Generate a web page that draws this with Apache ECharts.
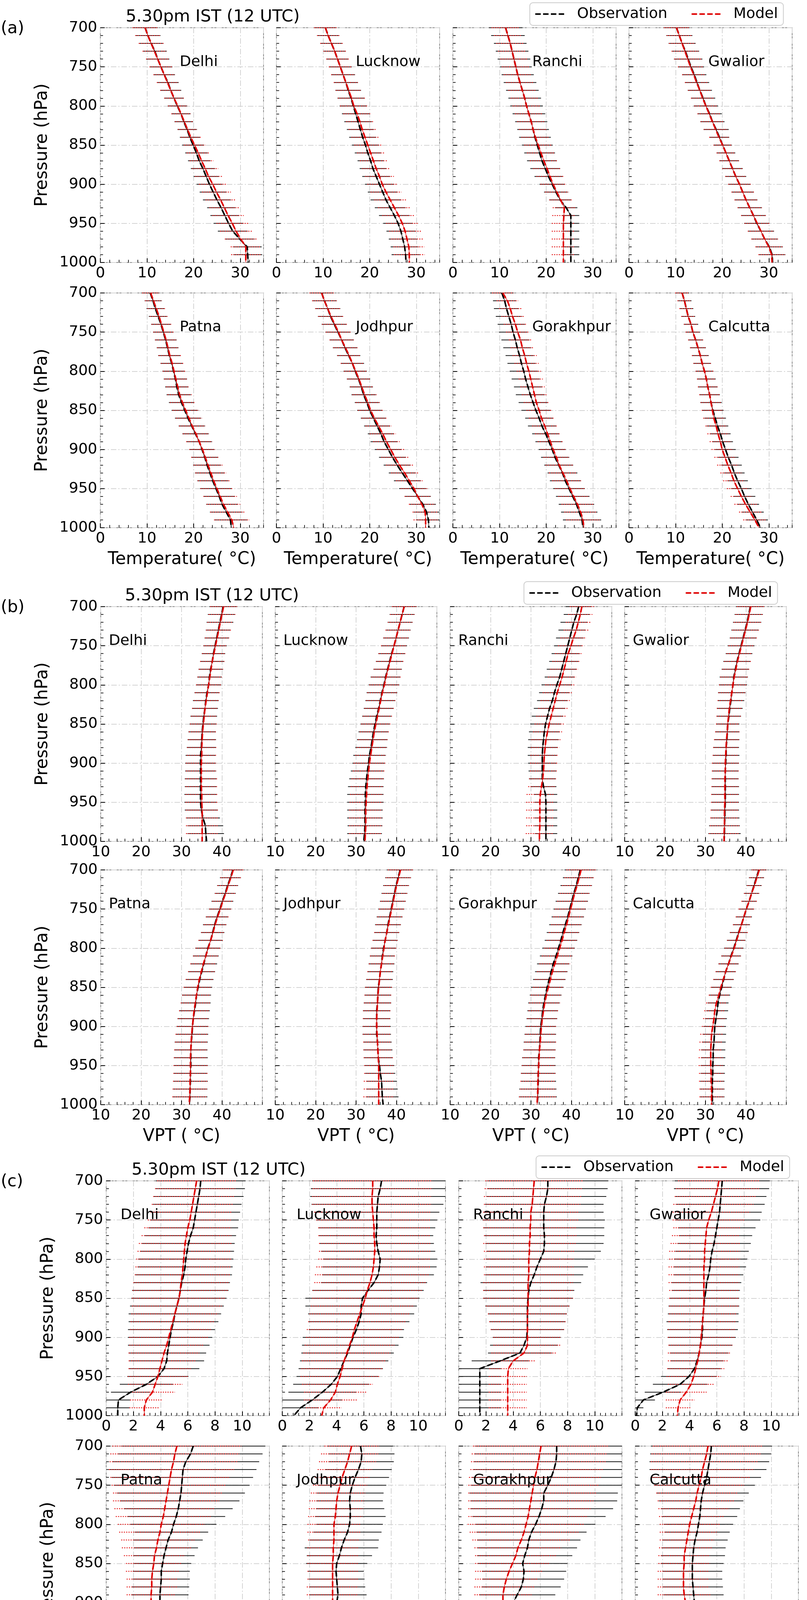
<!DOCTYPE html>
<html>
<head>
<meta charset="utf-8">
<script src="https://cdn.jsdelivr.net/npm/echarts@6.0.0/dist/echarts.min.js"></script>
<style>html,body{margin:0;padding:0;background:#fff}#c{width:2067px;height:4421px}</style>
</head>
<body>
<div id="c"></div>
<script>
// ---------------- data ----------------
const LEVELS = [700,710,720,730,740,750,760,770,780,790,800,810,820,830,840,850,860,870,880,890,900,910,920,930,940,950,960,970,980,990,1000];
const BAR_LEVELS = [700,710,720,730,740,750,760,770,780,790,800,810,820,830,840,850,860,870,880,890,900,910,920,930,940,950,960,970,980,990];
const STATIONS_ROW1 = ['Delhi','Lucknow','Ranchi','Gwalior'];
const STATIONS_ROW2 = ['Patna','Jodhpur','Gorakhpur','Calcutta'];
const PANEL_TAGS = ['(a)','(b)','(c)'];
const PANEL_TITLE = '5.30pm IST (12 UTC)';
const X_NAMES = ['Temperature( °C)','VPT ( °C)','Wind Speed ({it|ms}{sup|−1})'];
const Y_NAME = 'Pressure (hPa)';
const SERIES_NAMES = ['Observation','Model'];

// Temperature (°C)
const tObs_Delhi = [9.6,10.2,10.9,11.7,12.3,13.0,13.7,14.5,15.1,15.8,16.5,17.3,17.9,18.6,19.2,19.9,20.6,21.2,22.0,22.7,23.4,24.2,25.0,25.9,26.7,27.5,28.4,29.9,31.5,31.6,31.7];
const tMod_Delhi = [9.6,10.2,10.9,11.6,12.3,13.0,13.7,14.4,15.1,15.8,16.6,17.3,18.0,18.7,19.4,20.2,21.0,21.7,22.5,23.2,24.1,24.9,25.8,26.6,27.4,28.3,29.1,30.1,31.2,31.2,31.2];
const tObsErr_Delhi = [2.7,2.7,2.65,2.55,2.5,2.45,2.3,2.3,2.25,2.1,2.05,2.05,2.0,2.05,2.15,2.35,2.4,2.4,2.6,2.7,2.75,2.9,3.0,3.0,3.1,3.2,3.2,3.2,3.1,3.1];
const tModErr_Delhi = [2.7,2.7,2.65,2.55,2.5,2.45,2.3,2.3,2.25,2.1,2.05,2.05,2.0,2.05,2.15,2.3,2.5,2.55,2.8,2.9,2.95,3.1,3.2,3.2,3.35,3.4,3.4,3.4,3.25,3.15];
const tObs_Lucknow = [10.5,11.1,11.8,12.5,13.1,13.7,14.3,14.9,15.4,16.0,16.5,17.0,17.5,18.0,18.5,19.1,19.6,20.2,20.7,21.4,22.1,22.8,23.5,24.4,25.3,26.1,26.7,27.1,27.5,27.7,27.8];
const tMod_Lucknow = [10.5,11.1,11.8,12.5,13.1,13.7,14.3,14.9,15.5,16.1,16.6,17.3,17.9,18.4,19.0,19.6,20.2,20.8,21.4,22.1,22.7,23.5,24.4,25.3,26.2,27.0,27.6,28.0,28.4,28.5,28.5];
const tObsErr_Lucknow = [2.4,2.4,2.4,2.4,2.4,2.45,2.55,2.6,2.75,2.9,2.95,2.95,2.95,2.9,2.9,2.9,2.8,2.8,2.85,3.0,3.1,3.2,3.3,3.3,3.3,3.2,3.1,3.0,3.0,3.0];
const tModErr_Lucknow = [2.4,2.4,2.4,2.4,2.4,2.45,2.55,2.6,2.75,2.9,2.95,2.95,2.95,2.9,2.9,2.9,2.9,2.9,3.0,3.1,3.2,3.3,3.4,3.5,3.5,3.5,3.4,3.4,3.3,3.3];
const tObs_Ranchi = [11.3,11.8,12.3,12.7,13.1,13.5,13.9,14.4,14.9,15.4,15.8,16.3,16.8,17.2,17.6,18.1,18.6,19.1,19.8,20.5,21.3,22.1,23.0,24.3,25.3,25.3,25.3,25.3,25.3,25.3,25.3];
const tMod_Ranchi = [11.3,11.8,12.3,12.7,13.1,13.5,13.9,14.4,14.9,15.4,15.8,16.3,16.8,17.2,17.7,18.3,18.9,19.5,20.2,20.8,21.5,22.3,23.1,23.9,23.8,23.7,23.7,23.7,23.7,23.7,23.7];
const tObsErr_Ranchi = [3.6,3.6,3.5,3.5,3.5,3.4,3.45,3.5,3.5,3.5,3.5,3.5,3.45,3.4,3.4,3.3,3.3,3.2,3.2,3.0,2.7,2.55,2.35,2.4,1.8,1.8,1.8,1.8,1.8,1.8];
const tModErr_Ranchi = [3.0,3.0,3.0,3.0,3.0,3.0,3.0,3.0,3.0,3.0,3.0,3.0,3.0,3.0,3.0,3.0,3.0,3.0,3.0,2.9,2.7,2.55,2.4,2.5,2.5,2.5,2.5,2.5,2.5,2.5];
const tObs_Gwalior = [10.2,10.8,11.4,12.1,12.7,13.3,14.0,14.6,15.2,15.9,16.5,17.3,17.9,18.7,19.4,20.1,20.8,21.5,22.2,22.9,23.7,24.4,25.1,25.9,26.7,27.4,28.3,29.1,30.1,30.7,30.8];
const tMod_Gwalior = [10.2,10.8,11.4,12.0,12.6,13.2,13.9,14.5,15.2,15.8,16.5,17.2,17.9,18.6,19.3,20.1,20.8,21.5,22.2,22.9,23.7,24.4,25.1,25.9,26.7,27.5,28.3,29.1,30.0,30.6,30.7];
const tObsErr_Gwalior = [2.8,2.8,2.9,2.95,3.05,2.8,2.6,2.6,2.6,2.6,2.6,2.6,2.6,2.7,2.1,1.95,2.0,2.1,2.2,2.25,2.4,2.4,2.45,2.6,2.65,2.7,2.8,2.85,2.9,2.85];
const tModErr_Gwalior = [2.7,2.7,2.8,2.85,2.9,2.7,2.5,2.5,2.5,2.5,2.5,2.5,2.5,2.55,2.1,1.95,2.0,2.1,2.2,2.25,2.4,2.4,2.45,2.6,2.65,2.7,2.8,2.85,2.9,2.85];
const tObs_Patna = [10.7,11.3,11.8,12.4,13.0,13.5,14.0,14.4,14.8,15.3,15.7,16.1,16.4,16.8,17.4,18.1,18.8,19.6,20.4,21.2,21.8,22.4,22.9,23.5,24.1,24.8,25.5,26.1,27.0,27.9,28.1];
const tMod_Patna = [10.8,11.4,12.0,12.6,13.1,13.6,14.1,14.5,14.9,15.4,15.8,16.2,16.6,17.0,17.6,18.3,19.0,19.7,20.5,21.2,21.9,22.5,23.1,23.7,24.3,25.0,25.7,26.4,27.3,28.2,28.6];
const tObsErr_Patna = [1.8,1.8,1.9,2.0,2.1,2.2,2.3,2.3,2.4,2.4,2.4,2.5,2.5,2.6,2.7,2.8,2.8,2.8,2.8,2.7,2.7,2.9,3.0,3.2,3.3,3.4,3.4,3.4,3.5,3.5];
const tModErr_Patna = [1.8,1.8,1.9,2.0,2.1,2.2,2.3,2.3,2.4,2.4,2.4,2.5,2.5,2.6,2.7,2.8,2.8,2.8,2.8,2.8,2.8,3.0,3.1,3.3,3.4,3.5,3.6,3.6,3.7,3.8];
const tObs_Jodhpur = [9.7,10.3,11.0,11.6,12.4,13.2,14.0,14.7,15.5,16.3,16.9,17.6,18.2,18.7,19.4,20.0,20.8,21.6,22.4,23.1,24.0,24.9,25.9,27.0,28.1,29.2,30.3,31.4,32.2,32.6,32.7];
const tMod_Jodhpur = [9.7,10.3,11.0,11.7,12.5,13.3,14.0,14.8,15.6,16.3,17.0,17.7,18.3,18.9,19.6,20.2,21.0,21.9,22.8,23.6,24.5,25.4,26.4,27.5,28.5,29.5,30.3,31.2,31.9,32.0,32.0];
const tObsErr_Jodhpur = [2.6,2.65,2.7,2.7,2.7,2.7,2.6,2.6,2.5,2.5,2.5,2.5,2.5,2.6,2.6,2.7,2.7,2.8,2.8,2.9,2.9,2.9,2.9,2.9,2.9,2.9,2.8,2.8,2.7,2.65];
const tModErr_Jodhpur = [2.6,2.6,2.65,2.7,2.7,2.7,2.6,2.6,2.5,2.5,2.5,2.5,2.5,2.6,2.6,2.7,2.7,2.8,2.8,2.85,2.9,2.9,2.9,2.9,2.85,2.85,2.8,2.8,2.7,2.6];
const tObs_Gorakhpur = [10.5,11.1,11.5,12.0,12.5,12.9,13.4,13.8,14.3,14.7,15.2,15.6,16.1,16.6,17.2,17.8,18.5,19.1,19.9,20.6,21.3,21.9,22.7,23.5,24.1,24.9,25.7,26.5,27.1,27.7,27.9];
const tMod_Gorakhpur = [10.7,11.7,12.3,12.8,13.4,13.9,14.5,14.9,15.4,15.8,16.3,16.7,17.1,17.5,17.9,18.5,19.0,19.7,20.3,20.9,21.5,22.2,22.8,23.6,24.4,25.1,25.9,26.7,27.4,27.9,28.1];
const tObsErr_Gorakhpur = [2.5,2.5,2.7,2.8,2.9,3.0,3.0,3.0,3.0,3.0,3.0,3.0,3.0,3.1,3.1,3.1,3.0,3.0,2.9,2.9,2.9,3.0,3.1,3.2,3.3,3.4,3.6,3.8,3.9,4.1];
const tModErr_Gorakhpur = [2.3,2.3,2.4,2.4,2.5,2.5,2.5,2.5,2.6,2.6,2.6,2.6,2.6,2.7,2.7,2.7,2.7,2.7,2.7,2.7,2.7,2.8,2.9,3.0,3.1,3.2,3.3,3.4,3.5,3.6];
const tObs_Calcutta = [11.4,11.9,12.3,12.7,13.3,13.7,14.3,14.8,15.3,15.7,16.2,16.6,16.9,17.3,17.6,18.0,18.5,19.0,19.6,20.1,20.7,21.3,22.0,22.6,23.3,24.1,24.8,25.6,26.5,27.4,28.2];
const tMod_Calcutta = [11.4,11.9,12.3,12.7,13.3,13.7,14.3,14.8,15.3,15.7,16.2,16.6,16.9,17.3,17.6,17.9,18.2,18.7,19.1,19.6,20.0,20.6,21.2,21.9,22.5,23.3,24.1,25.0,26.0,27.0,27.9];
const tObsErr_Calcutta = [1.5,1.5,1.5,1.5,1.55,1.55,1.6,1.7,1.8,1.9,1.9,2.0,2.1,2.2,2.3,2.3,2.3,2.3,2.2,2.2,2.2,2.2,2.2,2.2,2.2,2.2,2.3,2.3,2.4,2.4];
const tModErr_Calcutta = [1.5,1.5,1.5,1.5,1.5,1.55,1.6,1.7,1.8,1.85,1.9,2.0,2.1,2.2,2.2,2.3,2.3,2.3,2.3,2.3,2.3,2.3,2.3,2.3,2.3,2.3,2.3,2.4,2.4,2.5];

// Virtual potential temperature (°C)
const vObs_Delhi = [40.3,39.9,39.5,39.1,38.7,38.3,37.9,37.6,37.2,36.9,36.7,36.3,36.0,35.8,35.5,35.3,35.1,35.0,34.9,34.7,34.7,34.7,34.7,34.7,34.7,34.7,34.9,35.3,35.9,36.0,36.2];
const vMod_Delhi = [40.4,40.0,39.6,39.2,38.8,38.4,38.0,37.6,37.3,37.0,36.7,36.4,36.1,35.8,35.6,35.4,35.2,35.1,35.0,35.0,34.9,34.9,34.9,34.9,35.0,35.0,35.1,35.1,35.1,35.1,35.1];
const vObsErr_Delhi = [3.4,3.4,3.3,3.1,3.0,2.9,2.9,3.0,3.0,3.0,3.1,3.1,3.2,3.2,3.3,3.3,3.4,3.5,3.6,3.7,3.8,3.8,3.9,3.9,4.0,4.0,4.1,4.2,4.4,4.5];
const vModErr_Delhi = [3.3,3.3,3.2,3.1,3.0,2.9,2.9,3.0,3.0,3.0,3.1,3.1,3.1,3.2,3.2,3.3,3.4,3.5,3.6,3.7,3.8,3.8,3.9,3.9,4.0,4.0,4.0,4.0,4.0,4.0];
const vObs_Lucknow = [41.9,41.4,40.9,40.4,39.9,39.4,38.8,38.3,37.8,37.3,36.9,36.4,36.0,35.6,35.1,34.7,34.3,34.0,33.7,33.3,33.1,32.8,32.6,32.4,32.3,32.3,32.2,32.2,32.2,32.1,31.9];
const vMod_Lucknow = [41.9,41.4,40.9,40.4,39.9,39.4,38.9,38.4,37.9,37.4,37.0,36.5,36.1,35.7,35.3,34.9,34.5,34.2,33.9,33.6,33.3,33.1,32.9,32.7,32.6,32.5,32.4,32.4,32.4,32.3,32.2];
const vObsErr_Lucknow = [3.1,3.1,3.1,3.1,3.2,3.2,3.3,3.4,3.5,3.7,3.8,3.8,3.7,3.7,3.6,3.6,3.7,3.8,3.9,4.0,4.0,4.1,4.3,4.4,4.5,4.5,4.4,4.4,4.3,4.3];
const vModErr_Lucknow = [3.0,3.0,3.0,3.1,3.1,3.2,3.3,3.4,3.5,3.6,3.7,3.7,3.6,3.6,3.6,3.6,3.6,3.7,3.8,3.8,3.9,3.9,4.0,4.0,4.1,4.1,4.1,4.1,4.1,4.0];
const vObs_Ranchi = [41.8,41.3,40.6,40.1,39.6,39.1,38.6,38.1,37.6,37.1,36.4,35.8,35.3,34.6,34.1,33.6,33.3,33.1,32.9,32.8,32.8,32.8,32.8,33.1,33.6,33.7,33.7,33.7,33.7,33.7,33.7];
const vMod_Ranchi = [42.6,42.2,41.7,41.2,40.5,39.9,39.2,38.7,38.2,37.7,37.1,36.5,36.0,35.5,35.0,34.5,34.1,33.7,33.5,33.3,33.2,33.1,32.9,32.6,32.3,32.2,32.2,32.2,32.2,32.1,32.1];
const vObsErr_Ranchi = [3.2,3.2,3.3,3.3,3.4,3.4,3.5,3.6,3.7,3.7,3.8,3.8,3.8,3.9,3.9,3.8,3.8,3.8,3.7,3.6,3.5,3.4,3.3,3.2,2.9,2.8,2.8,2.8,2.8,2.8];
const vModErr_Ranchi = [3.0,3.0,3.1,3.1,3.2,3.2,3.3,3.4,3.5,3.5,3.6,3.6,3.6,3.7,3.7,3.6,3.6,3.6,3.5,3.4,3.4,3.3,3.3,3.3,3.4,3.4,3.4,3.4,3.4,3.4];
const vObs_Gwalior = [41.1,40.7,40.3,39.8,39.3,38.8,38.3,37.8,37.4,37.0,36.8,36.5,36.3,36.0,35.8,35.5,35.4,35.3,35.1,35.1,35.0,34.9,34.9,34.9,34.9,34.9,34.8,34.8,34.7,34.7,34.6];
const vMod_Gwalior = [41.2,40.8,40.4,39.9,39.4,38.9,38.4,37.9,37.5,37.1,36.8,36.5,36.2,35.9,35.7,35.5,35.4,35.2,35.1,35.0,34.9,34.9,34.8,34.8,34.8,34.8,34.7,34.7,34.7,34.6,34.6];
const vObsErr_Gwalior = [3.5,3.5,3.5,3.4,3.3,3.3,3.3,3.4,3.4,3.5,3.5,3.4,3.3,3.2,3.0,2.9,3.0,3.1,3.2,3.3,3.3,3.3,3.3,3.4,3.4,3.4,3.5,3.6,3.8,4.0];
const vModErr_Gwalior = [3.4,3.4,3.4,3.3,3.3,3.2,3.2,3.3,3.3,3.4,3.4,3.3,3.2,3.1,3.0,2.9,3.0,3.1,3.2,3.2,3.3,3.3,3.3,3.3,3.4,3.4,3.4,3.5,3.6,3.7];
const vObs_Patna = [42.7,42.1,41.4,40.8,40.1,39.5,38.8,38.2,37.7,37.2,36.5,36.0,35.5,35.0,34.5,34.1,33.7,33.5,33.2,32.9,32.7,32.6,32.4,32.3,32.3,32.3,32.2,32.2,32.1,32.1,31.9];
const vMod_Patna = [42.8,42.2,41.5,40.9,40.2,39.6,38.9,38.3,37.8,37.2,36.6,36.0,35.4,34.9,34.4,34.0,33.7,33.4,33.1,32.9,32.7,32.5,32.4,32.3,32.2,32.2,32.2,32.1,32.1,32.0,31.9];
const vObsErr_Patna = [2.5,2.6,2.6,2.6,2.7,2.7,2.8,2.9,2.9,3.0,3.1,3.2,3.3,3.3,3.4,3.5,3.6,3.7,3.8,3.9,3.9,4.0,4.1,4.1,4.2,4.2,4.2,4.3,4.3,4.3];
const vModErr_Patna = [2.5,2.5,2.6,2.6,2.6,2.7,2.8,2.8,2.9,3.0,3.1,3.1,3.2,3.3,3.4,3.5,3.5,3.6,3.7,3.8,3.9,4.0,4.0,4.1,4.1,4.2,4.2,4.2,4.3,4.3];
const vObs_Jodhpur = [40.9,40.4,39.9,39.5,39.1,38.7,38.3,37.9,37.6,37.2,36.8,36.5,36.3,36.0,35.8,35.5,35.4,35.3,35.1,35.1,35.1,35.1,35.3,35.4,35.5,35.8,36.0,36.3,36.4,36.5,36.7];
const vMod_Jodhpur = [41.0,40.5,40.0,39.6,39.2,38.8,38.4,38.0,37.6,37.2,36.9,36.6,36.3,36.0,35.8,35.6,35.4,35.3,35.2,35.1,35.1,35.2,35.3,35.4,35.5,35.6,35.6,35.6,35.6,35.6,35.6];
const vObsErr_Jodhpur = [3.2,3.2,3.2,3.2,3.2,3.2,3.2,3.2,3.1,3.1,3.1,3.1,3.2,3.2,3.3,3.3,3.3,3.4,3.4,3.4,3.5,3.5,3.5,3.6,3.6,3.65,3.7,3.8,3.9,4.0];
const vModErr_Jodhpur = [3.1,3.1,3.1,3.1,3.1,3.1,3.1,3.1,3.1,3.1,3.1,3.1,3.1,3.2,3.2,3.3,3.3,3.3,3.4,3.4,3.4,3.5,3.5,3.5,3.6,3.6,3.6,3.7,3.7,3.8];
const vObs_Gorakhpur = [42.2,41.7,41.2,40.6,40.1,39.6,39.1,38.5,37.9,37.4,36.8,36.2,35.5,35.0,34.5,34.0,33.6,33.2,32.9,32.7,32.4,32.3,32.2,32.1,31.9,31.9,31.8,31.8,31.7,31.7,31.5];
const vMod_Gorakhpur = [42.4,41.9,41.4,40.8,40.3,39.8,39.3,38.8,38.2,37.7,37.1,36.5,35.9,35.3,34.8,34.3,33.8,33.4,33.1,32.8,32.6,32.4,32.3,32.1,32.0,31.9,31.8,31.7,31.7,31.6,31.5];
const vObsErr_Gorakhpur = [3.8,3.8,3.9,3.9,4.0,4.0,4.0,4.0,4.0,4.0,4.0,4.0,4.0,4.0,4.0,4.0,3.9,3.9,3.8,3.8,3.8,3.9,4.0,4.0,4.1,4.2,4.3,4.4,4.6,4.7];
const vModErr_Gorakhpur = [3.6,3.6,3.7,3.7,3.8,3.8,3.8,3.8,3.8,3.8,3.8,3.8,3.8,3.8,3.8,3.8,3.8,3.8,3.7,3.7,3.7,3.8,3.9,3.9,4.0,4.1,4.2,4.3,4.4,4.5];
const vObs_Calcutta = [43.2,42.6,42.0,41.4,40.8,40.1,39.5,38.9,38.2,37.6,37.0,36.3,35.7,35.0,34.5,34.0,33.5,33.1,32.9,32.6,32.3,32.2,32.1,31.9,31.9,31.8,31.8,31.7,31.7,31.7,31.7];
const vMod_Calcutta = [43.3,42.7,42.1,41.4,40.8,40.1,39.5,38.9,38.3,37.7,37.1,36.4,35.7,35.0,34.4,33.8,33.3,32.7,32.3,32.1,31.8,31.5,31.4,31.3,31.3,31.3,31.4,31.4,31.5,31.5,31.5];
const vObsErr_Calcutta = [1.85,1.85,1.85,1.9,1.9,1.9,2.0,2.1,2.2,2.3,2.4,2.4,2.5,2.5,2.5,2.5,2.6,2.6,2.7,2.7,2.8,2.9,2.9,3.0,3.0,3.0,3.0,3.0,3.0,3.0];
const vModErr_Calcutta = [1.8,1.8,1.8,1.85,1.9,1.9,2.0,2.1,2.2,2.3,2.3,2.4,2.4,2.5,2.5,2.5,2.5,2.6,2.6,2.7,2.7,2.8,2.9,2.9,3.0,3.0,3.0,3.0,3.0,3.0];

// Wind speed (m/s)
const wObs_Delhi = [6.95,6.9,6.8,6.7,6.6,6.5,6.4,6.2,6.05,5.95,5.85,5.8,5.7,5.55,5.45,5.35,5.2,5.05,4.95,4.8,4.7,4.6,4.5,4.45,4.25,3.8,2.95,1.8,0.9,0.85,0.85];
const wMod_Delhi = [6.65,6.55,6.45,6.35,6.25,6.15,6.0,5.9,5.8,5.75,5.7,5.65,5.6,5.5,5.45,5.35,5.2,5.05,4.9,4.75,4.6,4.45,4.25,4.1,3.95,3.8,3.6,3.4,2.95,2.8,2.8];
const wObsErr_Delhi = [3.3,3.3,3.3,3.25,3.25,3.25,3.3,3.35,3.4,3.45,3.5,3.5,3.55,3.55,3.55,3.5,3.45,3.4,3.3,3.2,3.1,3.0,2.85,2.75,2.6,2.25,1.95,1.45,0.9,0.9];
const wModErr_Delhi = [2.9,2.95,3.0,3.0,3.0,3.1,3.2,3.3,3.4,3.45,3.5,3.5,3.5,3.5,3.5,3.45,3.3,3.2,3.1,3.0,2.9,2.75,2.6,2.45,2.3,2.2,2.0,1.65,1.2,1.1];
const wObs_Lucknow = [7.3,7.2,7.05,7.0,6.95,6.95,6.95,6.9,6.95,7.05,7.2,7.15,7.05,6.75,6.3,5.9,5.8,5.8,5.65,5.45,5.2,5.0,4.8,4.55,4.3,4.05,3.6,2.95,2.2,1.35,0.85];
const wMod_Lucknow = [6.65,6.65,6.6,6.6,6.65,6.7,6.75,6.75,6.8,6.8,6.75,6.7,6.6,6.45,6.25,6.1,5.9,5.7,5.5,5.3,5.15,4.95,4.75,4.55,4.4,4.25,4.05,3.9,3.55,3.05,2.9];
const wObsErr_Lucknow = [5.1,5.1,5.0,4.85,4.6,4.45,4.3,4.2,4.2,4.2,4.2,4.2,4.1,3.9,4.1,4.2,4.1,3.9,3.7,3.5,3.7,3.55,3.4,3.25,3.1,3.0,2.8,2.5,2.2,1.35];
const wModErr_Lucknow = [4.4,4.4,4.4,4.4,4.3,4.2,4.1,4.1,4.1,4.1,4.1,4.2,4.2,4.1,4.0,3.9,3.8,3.7,3.6,3.5,3.4,3.3,3.2,3.1,3.0,2.9,2.6,2.3,1.95,1.3];
const wObs_Ranchi = [6.55,6.55,6.45,6.3,6.25,6.25,6.25,6.3,6.3,6.25,6.0,5.75,5.55,5.3,5.15,5.1,5.05,5.05,5.05,5.05,5.0,4.8,4.5,3.05,1.55,1.55,1.55,1.55,1.55,1.55,1.55];
const wMod_Ranchi = [5.55,5.5,5.45,5.4,5.3,5.3,5.25,5.25,5.2,5.2,5.15,5.15,5.15,5.1,5.1,5.1,5.1,5.05,5.05,5.05,5.05,5.05,4.8,4.0,3.65,3.6,3.6,3.6,3.6,3.6,3.6];
const wObsErr_Ranchi = [4.45,4.4,4.4,4.35,4.4,4.5,4.45,4.4,4.35,4.2,4.0,3.75,3.6,3.7,3.35,3.3,3.1,2.9,2.8,2.7,2.5,2.5,2.35,2.1,1.55,1.55,1.55,1.55,1.55,1.55];
const wModErr_Ranchi = [3.6,3.6,3.6,3.55,3.5,3.5,3.45,3.4,3.4,3.35,3.3,3.3,3.3,3.3,3.3,3.3,3.1,2.9,2.8,2.7,2.5,2.5,2.4,1.6,1.4,1.4,1.4,1.4,1.4,1.4];
const wObs_Gwalior = [6.4,6.35,6.3,6.25,6.2,6.1,6.0,5.9,5.8,5.65,5.55,5.5,5.4,5.25,5.2,5.1,5.05,5.0,4.95,4.95,4.9,4.8,4.7,4.55,4.35,3.95,3.3,2.05,0.6,0.15,0.1];
const wMod_Gwalior = [6.15,6.05,5.9,5.75,5.6,5.4,5.25,5.2,5.15,5.1,5.1,5.05,5.05,5.05,5.05,5.05,5.05,5.0,4.95,4.9,4.85,4.8,4.7,4.6,4.45,4.3,4.1,3.75,3.3,3.15,3.1];
const wObsErr_Gwalior = [3.5,3.5,3.35,3.27,3.1,3.1,2.85,2.7,2.7,2.7,2.7,2.65,2.55,2.55,2.5,2.55,2.6,2.6,2.65,2.6,2.5,2.35,2.15,1.95,1.95,2.05,2.0,1.35,0.85,0.45];
const wModErr_Gwalior = [3.0,3.05,3.0,2.95,2.85,2.65,2.45,2.5,2.55,2.6,2.6,2.6,2.6,2.6,2.55,2.55,2.55,2.5,2.5,2.5,2.45,2.35,2.3,2.2,2.1,2.0,1.7,1.5,1.05,0.9];
const wObs_Patna = [6.4,6.2,5.85,5.65,5.6,5.55,5.5,5.4,5.3,5.15,4.95,4.8,4.55,4.4,4.25,4.15,4.05,4.05,4.0,3.95,3.95,3.95,3.9,3.85,3.75,3.6,3.5,3.3,3.05,2.8,2.55];
const wMod_Patna = [5.2,5.05,4.95,4.8,4.7,4.6,4.5,4.4,4.3,4.2,4.05,3.95,3.8,3.7,3.55,3.5,3.4,3.35,3.35,3.3,3.3,3.3,3.3,3.3,3.3,3.25,3.2,3.2,3.1,2.85,2.55];
const wObsErr_Patna = [5.3,5.3,5.4,5.4,5.2,5.0,4.7,4.4,4.0,3.6,3.15,2.7,2.55,2.35,2.25,2.1,2.1,2.1,2.1,2.1,2.15,2.2,2.3,2.2,2.15,2.15,2.05,2.0,1.9,1.9];
const wModErr_Patna = [4.75,4.75,4.7,4.6,4.4,4.2,4.0,3.9,3.7,3.5,3.2,3.0,2.7,2.55,2.25,2.05,1.95,1.85,1.85,1.8,1.8,1.8,1.8,1.8,1.8,1.8,1.75,1.7,1.65,1.6];
const wObs_Jodhpur = [5.75,5.85,5.8,5.6,5.35,5.15,5.0,4.95,5.0,5.0,4.95,4.8,4.55,4.35,4.2,4.0,3.95,4.0,4.05,4.1,4.0,3.75,3.5,3.2,2.9,2.55,2.2,1.7,0.95,0.45,0.4];
const wMod_Jodhpur = [5.1,4.95,4.8,4.6,4.4,4.25,4.1,4.0,3.95,3.9,3.8,3.8,3.8,3.75,3.75,3.7,3.7,3.7,3.7,3.7,3.7,3.7,3.7,3.7,3.7,3.7,3.6,3.4,3.2,3.15,3.15];
const wObsErr_Jodhpur = [2.4,2.4,2.4,2.45,2.5,2.5,2.45,2.45,2.5,2.6,2.45,2.5,2.55,2.7,2.4,2.25,2.05,2.05,2.05,2.1,2.3,2.1,2.1,2.0,2.1,2.0,2.1,1.8,0.95,0.7];
const wModErr_Jodhpur = [2.0,2.1,2.1,2.0,2.0,2.0,2.0,2.0,2.0,2.0,1.95,1.95,1.9,1.9,1.9,1.85,1.85,1.85,1.9,1.9,1.9,1.9,1.9,1.9,1.9,1.9,1.75,1.65,1.4,1.4];
const wObs_Gorakhpur = [7.2,7.2,7.15,7.0,6.8,6.55,6.25,6.25,6.1,5.9,5.65,5.35,5.15,5.05,4.85,4.7,4.8,4.75,4.6,4.3,4.0,3.8,3.65,3.5,3.35,3.15,2.95,2.7,2.3,1.9,1.6];
const wMod_Gorakhpur = [6.05,5.95,5.85,5.75,5.6,5.5,5.4,5.3,5.2,5.1,4.95,4.8,4.6,4.35,4.2,3.95,3.7,3.5,3.35,3.25,3.25,3.2,3.15,3.15,3.1,3.1,3.05,3.0,2.9,2.55,2.45];
const wObsErr_Gorakhpur = [6.0,6.0,6.0,5.9,5.8,5.6,5.45,5.4,5.25,4.9,4.4,4.05,3.8,3.65,3.5,3.3,3.1,3.0,2.9,2.8,2.7,2.7,2.65,2.6,2.55,2.5,2.45,2.35,2.3,2.1];
const wModErr_Gorakhpur = [5.0,5.0,4.95,4.9,4.85,4.8,4.7,4.6,4.5,4.4,4.3,4.0,3.6,3.2,3.0,2.75,2.5,2.3,2.2,2.1,2.1,2.1,2.15,2.2,2.25,2.3,2.3,2.3,2.3,2.3];
const wObs_Calcutta = [5.6,5.55,5.45,5.35,5.25,5.1,4.95,4.85,4.8,4.75,4.65,4.55,4.4,4.3,4.25,4.2,4.2,4.2,4.25,4.3,4.35,4.35,4.35,4.35,4.3,4.2,3.95,3.7,3.2,2.3,1.5];
const wMod_Calcutta = [5.35,5.25,5.1,4.95,4.85,4.7,4.55,4.45,4.3,4.15,4.0,3.9,3.8,3.7,3.6,3.6,3.55,3.55,3.55,3.6,3.7,3.8,3.85,3.95,4.0,4.05,4.1,4.1,4.05,3.85,3.45];
const wObsErr_Calcutta = [4.45,4.45,4.4,4.3,4.0,3.7,3.4,3.1,2.9,2.75,2.55,2.4,2.4,2.35,2.35,2.3,2.2,2.2,2.2,2.2,2.2,2.05,2.05,2.05,2.05,1.7,1.6,1.6,1.0,0.8];
const wModErr_Calcutta = [4.05,4.05,3.95,3.8,3.6,3.3,3.0,2.8,2.6,2.4,2.2,2.1,2.0,1.95,1.9,1.9,1.9,1.9,1.9,1.95,1.95,1.95,1.9,1.85,1.8,1.75,1.7,1.65,1.5,1.4];

// ---------------- lookup built from the arrays ----------------
const DATA = {
  t: {
    Delhi:[tObs_Delhi,tMod_Delhi,tObsErr_Delhi,tModErr_Delhi], Lucknow:[tObs_Lucknow,tMod_Lucknow,tObsErr_Lucknow,tModErr_Lucknow],
    Ranchi:[tObs_Ranchi,tMod_Ranchi,tObsErr_Ranchi,tModErr_Ranchi], Gwalior:[tObs_Gwalior,tMod_Gwalior,tObsErr_Gwalior,tModErr_Gwalior],
    Patna:[tObs_Patna,tMod_Patna,tObsErr_Patna,tModErr_Patna], Jodhpur:[tObs_Jodhpur,tMod_Jodhpur,tObsErr_Jodhpur,tModErr_Jodhpur],
    Gorakhpur:[tObs_Gorakhpur,tMod_Gorakhpur,tObsErr_Gorakhpur,tModErr_Gorakhpur], Calcutta:[tObs_Calcutta,tMod_Calcutta,tObsErr_Calcutta,tModErr_Calcutta]
  },
  v: {
    Delhi:[vObs_Delhi,vMod_Delhi,vObsErr_Delhi,vModErr_Delhi], Lucknow:[vObs_Lucknow,vMod_Lucknow,vObsErr_Lucknow,vModErr_Lucknow],
    Ranchi:[vObs_Ranchi,vMod_Ranchi,vObsErr_Ranchi,vModErr_Ranchi], Gwalior:[vObs_Gwalior,vMod_Gwalior,vObsErr_Gwalior,vModErr_Gwalior],
    Patna:[vObs_Patna,vMod_Patna,vObsErr_Patna,vModErr_Patna], Jodhpur:[vObs_Jodhpur,vMod_Jodhpur,vObsErr_Jodhpur,vModErr_Jodhpur],
    Gorakhpur:[vObs_Gorakhpur,vMod_Gorakhpur,vObsErr_Gorakhpur,vModErr_Gorakhpur], Calcutta:[vObs_Calcutta,vMod_Calcutta,vObsErr_Calcutta,vModErr_Calcutta]
  },
  w: {
    Delhi:[wObs_Delhi,wMod_Delhi,wObsErr_Delhi,wModErr_Delhi], Lucknow:[wObs_Lucknow,wMod_Lucknow,wObsErr_Lucknow,wModErr_Lucknow],
    Ranchi:[wObs_Ranchi,wMod_Ranchi,wObsErr_Ranchi,wModErr_Ranchi], Gwalior:[wObs_Gwalior,wMod_Gwalior,wObsErr_Gwalior,wModErr_Gwalior],
    Patna:[wObs_Patna,wMod_Patna,wObsErr_Patna,wModErr_Patna], Jodhpur:[wObs_Jodhpur,wMod_Jodhpur,wObsErr_Jodhpur,wModErr_Jodhpur],
    Gorakhpur:[wObs_Gorakhpur,wMod_Gorakhpur,wObsErr_Gorakhpur,wModErr_Gorakhpur], Calcutta:[wObs_Calcutta,wMod_Calcutta,wObsErr_Calcutta,wModErr_Calcutta]
  }
};

// ---------------- layout / style ----------------
const FONT = 'DejaVu Sans';
const PLOT_H = 601;
const RED = '#e00000';
const PANELS = [
  {id:'t', min:0,  max:35, major:10, minor:2,   lefts:[257,708,1160,1611], width:418, tops:[71,750],   labelFx:0.486, titleX:322},
  {id:'v', min:10, max:50, major:10, minor:2,   lefts:[258,705,1153,1600], width:414, tops:[1553,2227], labelFx:0.05,  titleX:320},
  {id:'w', min:0,  max:12, major:2,  minor:0.4, lefts:[272,723,1175,1627], width:418, tops:[3023,3702], labelFx:0.088, titleX:337}
];
const GRID_LINE = {color:'#d4d4d4', width:2, type:[14,5,3,5]};

function errRenderer(color, width, dash) {
  return function (params, api) {
    const x = api.value(0), p = api.value(1), e = api.value(2);
    const a = api.coord([x - e, p]);
    const b = api.coord([x + e, p]);
    const cs = params.coordSys;
    const x1 = Math.max(Math.min(a[0], b[0]), cs.x);
    const x2 = Math.min(Math.max(a[0], b[0]), cs.x + cs.width);
    if (x2 <= x1) return null;
    return {type:'line', shape:{x1:x1, y1:a[1], x2:x2, y2:a[1]},
            style:{stroke:color, lineWidth:width, lineDash:dash}};
  };
}
function plainNumber(v) { return String(v); }

const option = {
  animation:false,
  backgroundColor:'#fff',
  textStyle:{fontFamily:FONT},
  grid:[], xAxis:[], yAxis:[], series:[], legend:[],
  graphic:{elements:[]}
};

const ROWS = [STATIONS_ROW1, STATIONS_ROW2];

PANELS.forEach(function (P, pi) {
  option.graphic.elements.push({type:'text', x:2, y:P.tops[0] + 3,
    style:{text:PANEL_TAGS[pi], font:'43px ' + FONT, fill:'#000', align:'left', verticalAlign:'middle', textAlign:'left', textVerticalAlign:'middle'}});
  option.graphic.elements.push({type:'text', x:P.titleX, y:P.tops[0] - 27,
    style:{text:PANEL_TITLE, font:'43px ' + FONT, fill:'#000', align:'left', verticalAlign:'middle', textAlign:'left', textVerticalAlign:'middle'}});
  option.legend.push({
    left: P.lefts[3] + P.width - 20 - 652, top: P.tops[0] - 64,
    orient:'horizontal', data:SERIES_NAMES.slice(), selectedMode:false,
    itemWidth:76, itemHeight:20, itemGap:60,
    padding:[10,14,10,12], borderColor:'#cccccc', borderWidth:2, borderRadius:8, backgroundColor:'#ffffff',
    itemStyle:{opacity:0, borderWidth:0},
    lineStyle:{width:4, type:[14, 6]},
    textStyle:{fontSize:38, color:'#000', fontFamily:FONT, padding:[0,0,0,26]}
  });

  ROWS.forEach(function (stations, row) {
    stations.forEach(function (st, col) {
      const k = option.grid.length;
      const left = P.lefts[col], top = P.tops[row], w = P.width;
      const d = DATA[P.id][st];
      option.grid.push({left:left, top:top, width:w, height:PLOT_H, show:true,
        borderColor:'#8c8c8c', borderWidth:2, backgroundColor:'rgba(0,0,0,0)', containLabel:false});

      const xName = row === 1 ? X_NAMES[pi] : '';
      option.xAxis.push({
        gridIndex:k, type:'value', min:P.min, max:P.max, interval:P.major, position:'bottom',
        axisLine:{show:false},
        axisTick:{show:true, inside:true, length:11, lineStyle:{color:'#000', width:2}},
        axisLabel:{show:true, fontSize:38, color:'#000', margin:9, fontFamily:FONT, showMaxLabel:false, formatter:plainNumber},
        splitLine:{show:true, lineStyle:GRID_LINE},
        name:xName, nameLocation:'middle', nameGap:60,
        nameTextStyle:{fontSize:44, color:'#000', fontFamily:FONT,
          rich:{it:{fontSize:44, fontStyle:'italic', fontFamily:FONT, color:'#000'},
                sup:{fontSize:30, fontFamily:FONT, color:'#000', verticalAlign:'top', padding:[0,0,14,0]}}}
      });
      option.xAxis.push({
        gridIndex:k, type:'value', min:P.min, max:P.max, interval:P.minor, position:'bottom',
        axisLine:{show:false},
        axisTick:{show:true, inside:true, length:7, lineStyle:{color:'#000', width:1.6}},
        axisLabel:{show:false}, splitLine:{show:false}
      });
      option.yAxis.push({
        gridIndex:k, type:'value', inverse:true, min:700, max:1000, interval:50,
        axisLine:{show:false},
        axisTick:{show:true, inside:true, length:11, lineStyle:{color:'#000', width:2}},
        minorTick:{show:true, splitNumber:5, length:7, lineStyle:{color:'#000', width:1.6}},
        axisLabel:{show:col === 0, fontSize:38, color:'#000', margin:8, fontFamily:FONT, formatter:plainNumber},
        splitLine:{show:true, lineStyle:GRID_LINE},
        name: col === 0 ? Y_NAME : '', nameLocation:'middle', nameGap:126,
        nameTextStyle:{fontSize:44, color:'#000', fontFamily:FONT}
      });

      const xi = 2 * k, yi = k;
      const obsLine = LEVELS.map(function (p, i) { return [d[0][i], p]; });
      const modLine = LEVELS.map(function (p, i) { return [d[1][i], p]; });
      const obsBars = BAR_LEVELS.map(function (p, i) { return [d[0][i], p, d[2][i]]; });
      const modBars = BAR_LEVELS.map(function (p, i) { return [d[1][i], p, d[3][i]]; });

      option.series.push({type:'custom', name:'obsErr', xAxisIndex:xi, yAxisIndex:yi, coordinateSystem:'cartesian2d',
        encode:{x:0, y:1}, data:obsBars, renderItem:errRenderer('#1a1a1a', 2, null), silent:true});
      option.series.push({type:'custom', name:'modErr', xAxisIndex:xi, yAxisIndex:yi, coordinateSystem:'cartesian2d',
        encode:{x:0, y:1}, data:modBars, renderItem:errRenderer(RED, 2, [3, 3]), silent:true});
      option.series.push({type:'line', name:'obsThin', xAxisIndex:xi, yAxisIndex:yi, data:obsLine,
        symbol:'none', silent:true, lineStyle:{color:'#000', width:1.4, type:'solid'}});
      option.series.push({type:'line', name:SERIES_NAMES[0], xAxisIndex:xi, yAxisIndex:yi, data:obsLine,
        symbol:'none', silent:true, color:'#000', lineStyle:{color:'#000', width:4, type:[15, 7]}});
      option.series.push({type:'line', name:'modThin', xAxisIndex:xi, yAxisIndex:yi, data:modLine,
        symbol:'none', silent:true, lineStyle:{color:RED, width:1.4, type:'solid'}});
      option.series.push({type:'line', name:SERIES_NAMES[1], xAxisIndex:xi, yAxisIndex:yi, data:modLine,
        symbol:'none', silent:true, color:RED, lineStyle:{color:RED, width:4, type:[15, 7]}});

      option.graphic.elements.push({type:'text', x:left + P.labelFx * w, y:top + 88, z:100,
        style:{text:st, font:'38px ' + FONT, fill:'#000', align:'left', verticalAlign:'middle', textAlign:'left', textVerticalAlign:'middle'}});
    });
  });
});

const chart = echarts.init(document.getElementById('c'), null, {renderer:'canvas', width:2067, height:4421});
chart.setOption(option);
</script>
</body>
</html>
